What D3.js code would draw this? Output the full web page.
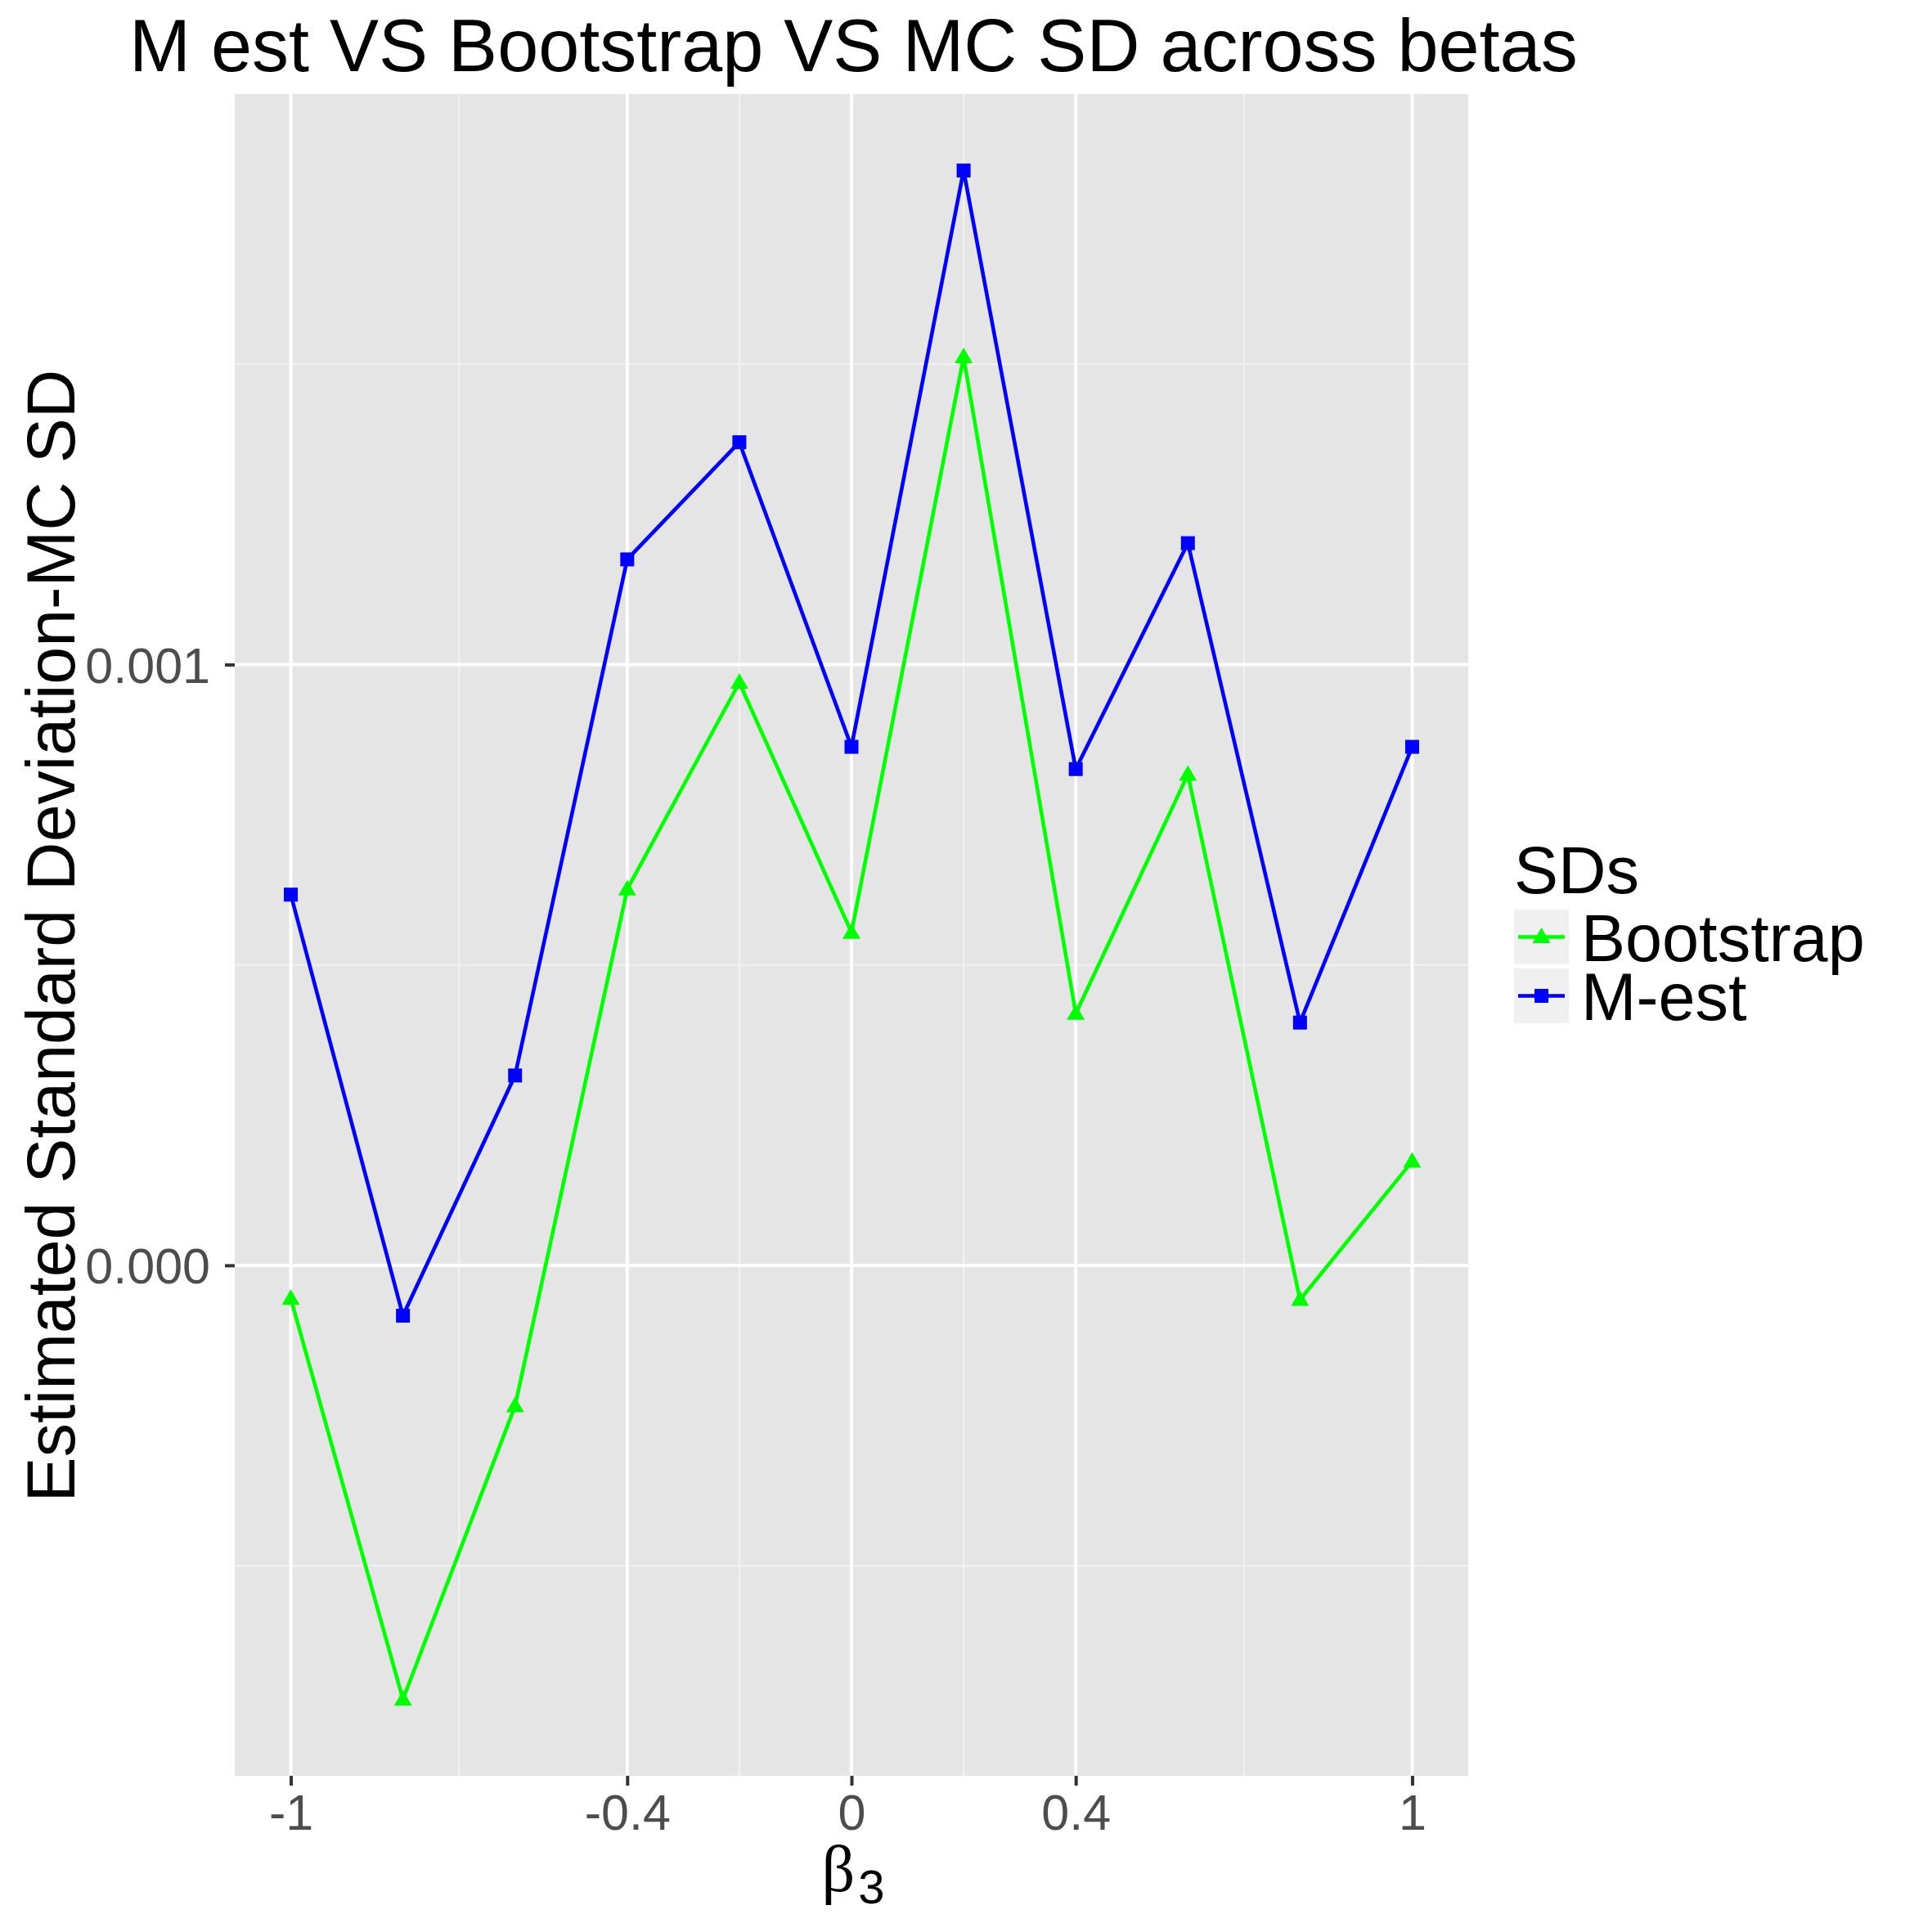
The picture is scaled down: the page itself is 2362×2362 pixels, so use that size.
<!DOCTYPE html>
<html>
<head>
<meta charset="utf-8">
<script src="https://cdn.jsdelivr.net/npm/d3@7"></script>
<style>
  html, body { margin: 0; padding: 0; background: #ffffff; }
  svg { display: block; }
</style>
</head>
<body>
<script>
// ---- data ----
const betas = [-1, -0.8, -0.6, -0.4, -0.2, 0, 0.2, 0.4, 0.6, 0.8, 1];
const bootstrapSD = [-0.0000554, -0.0007224, -0.000234, 0.000626, 0.00097, 0.000554, 0.001512, 0.000419, 0.000817, -0.0000572, 0.000173];
const mestSD = [0.000617, -0.0000838, 0.000316, 0.001175, 0.00137, 0.000863, 0.0018223, 0.000826, 0.001202, 0.000404, 0.000863];
const seriesNames = ["Bootstrap", "M-est"];
const seriesColors = ["#00ff00", "#0000ff"];
const xTickValues = [-1, -0.4, 0, 0.4, 1];
const xTickLabels = ["-1", "-0.4", "0", "0.4", "1"];
const xMinorValues = [-0.7, -0.2, 0.2, 0.7];
const yTickValues = [0, 0.001];
const yTickLabels = ["0.000", "0.001"];
const yMinorValues = [-0.0005, 0.0005, 0.0015];
const titleText = "M est VS Bootstrap VS MC SD across betas";
const yTitle = "Estimated Standard Deviation-MC SD";
const legendTitle = "SDs";

// ---- layout ----
const W = 2362, H = 2362;
const panel = {x0: 287, x1: 1795, y0: 115, y1: 2171};

const svg = d3.select("body").append("svg").attr("width", W).attr("height", H)
  .style("font-family", "'Liberation Sans', Arial, Helvetica, sans-serif");
svg.append("rect").attr("width", W).attr("height", H).attr("fill", "#ffffff");

// scales with ggplot 5% expansion
const xExt = d3.extent(betas);
const xPad = (xExt[1] - xExt[0]) * 0.05;
const x = d3.scaleLinear().domain([xExt[0] - xPad, xExt[1] + xPad]).range([panel.x0, panel.x1]);
const yExt = d3.extent(bootstrapSD.concat(mestSD));
const yPad = (yExt[1] - yExt[0]) * 0.05;
const y = d3.scaleLinear().domain([yExt[0] - yPad, yExt[1] + yPad]).range([panel.y1, panel.y0]);

// panel background
svg.append("rect").attr("x", panel.x0).attr("y", panel.y0)
  .attr("width", panel.x1 - panel.x0).attr("height", panel.y1 - panel.y0)
  .attr("fill", "#e5e5e5");

const grid = svg.append("g");
// minor grid
grid.selectAll("line.ymin").data(yMinorValues).enter().append("line")
  .attr("x1", panel.x0).attr("x2", panel.x1)
  .attr("y1", d => y(d)).attr("y2", d => y(d))
  .attr("stroke", "#f2f2f2").attr("stroke-width", 2);
grid.selectAll("line.xmin").data(xMinorValues).enter().append("line")
  .attr("y1", panel.y0).attr("y2", panel.y1)
  .attr("x1", d => x(d)).attr("x2", d => x(d))
  .attr("stroke", "#f2f2f2").attr("stroke-width", 2);
// major grid
grid.selectAll("line.ymaj").data(yTickValues).enter().append("line")
  .attr("x1", panel.x0).attr("x2", panel.x1)
  .attr("y1", d => y(d)).attr("y2", d => y(d))
  .attr("stroke", "#ffffff").attr("stroke-width", 4);
grid.selectAll("line.xmaj").data(xTickValues).enter().append("line")
  .attr("y1", panel.y0).attr("y2", panel.y1)
  .attr("x1", d => x(d)).attr("x2", d => x(d))
  .attr("stroke", "#ffffff").attr("stroke-width", 4);

// axes
const xAxis = d3.axisBottom(x).tickValues(xTickValues)
  .tickFormat((d, i) => xTickLabels[i]).tickSize(12).tickPadding(10);
const gx = svg.append("g").attr("transform", `translate(0,${panel.y1})`).call(xAxis);
gx.select(".domain").remove();
gx.selectAll(".tick line").attr("stroke", "#333333").attr("stroke-width", 4);
gx.selectAll(".tick text").attr("fill", "#4d4d4d").attr("font-size", 61)
  .attr("font-family", "'Liberation Sans', Arial, sans-serif").attr("dy", "0.72em");

const yAxis = d3.axisLeft(y).tickValues(yTickValues)
  .tickFormat((d, i) => yTickLabels[i]).tickSize(12).tickPadding(18);
const gy = svg.append("g").attr("transform", `translate(${panel.x0},0)`).call(yAxis);
gy.select(".domain").remove();
gy.selectAll(".tick line").attr("stroke", "#333333").attr("stroke-width", 4);
gy.selectAll(".tick text").attr("fill", "#4d4d4d").attr("font-size", 61)
  .attr("font-family", "'Liberation Sans', Arial, sans-serif").attr("dy", "0.36em");

// series
const seriesData = [bootstrapSD, mestSD];
const line = d3.line().x((d, i) => x(betas[i])).y(d => y(d));
const triPath = (cx, cy) => {
  const hw = 11, h = 19;
  return `M${cx},${cy - h * 0.6}L${cx + hw},${cy + h * 0.4}L${cx - hw},${cy + h * 0.4}Z`;
};
seriesData.forEach((vals, si) => {
  const g = svg.append("g");
  g.append("path").datum(vals).attr("d", line)
    .attr("fill", "none").attr("stroke", seriesColors[si]).attr("stroke-width", 4.6)
    .attr("stroke-linejoin", "round");
  if (si === 0) {
    g.selectAll("path.pt").data(vals).enter().append("path")
      .attr("d", (d, i) => triPath(x(betas[i]), y(d)))
      .attr("fill", seriesColors[si]);
  } else {
    g.selectAll("rect.pt").data(vals).enter().append("rect")
      .attr("x", (d, i) => x(betas[i]) - 8.5).attr("y", d => y(d) - 8.5)
      .attr("width", 17).attr("height", 17)
      .attr("fill", seriesColors[si]);
  }
});

// title
svg.append("text").attr("x", 158).attr("y", 87).attr("font-size", 90)
  .attr("fill", "#000000").text(titleText);

// y-axis title
svg.append("text")
  .attr("transform", `translate(91,${(panel.y0 + panel.y1) / 2 + 1}) rotate(-90)`)
  .attr("text-anchor", "middle").attr("font-size", 82.5).attr("fill", "#000000")
  .text(yTitle);

// x-axis title: beta with subscript 3
const xt = svg.append("text").attr("x", x(0) + 2).attr("y", 2312)
  .attr("text-anchor", "middle").attr("fill", "#000000");
xt.append("tspan").attr("font-size", 80).attr("font-family", "'Liberation Serif', 'DejaVu Serif', serif").text("β");
xt.append("tspan").attr("font-size", 58).attr("dy", 15).attr("dx", 4)
  .attr("font-family", "'Liberation Sans', Arial, sans-serif").text("3");

// legend
const leg = svg.append("g");
leg.append("text").attr("x", 1851).attr("y", 1092).attr("font-size", 81)
  .attr("fill", "#000000").text(legendTitle);
seriesNames.forEach((name, i) => {
  const ky = 1112 + i * 72;
  leg.append("rect").attr("x", 1851).attr("y", ky).attr("width", 67).attr("height", 67)
    .attr("fill", "#f0f0f0");
  const cy = ky + 33.5, cx = 1851 + 33.5;
  leg.append("line").attr("x1", 1856).attr("x2", 1913).attr("y1", cy).attr("y2", cy)
    .attr("stroke", seriesColors[i]).attr("stroke-width", 4.3);
  if (i === 0) {
    leg.append("path").attr("d", triPath(cx, cy)).attr("fill", seriesColors[i]);
  } else {
    leg.append("rect").attr("x", cx - 8.5).attr("y", cy - 8.5).attr("width", 17).attr("height", 17)
      .attr("fill", seriesColors[i]);
  }
  leg.append("text").attr("x", 1933).attr("y", ky + 63).attr("font-size", 81)
    .attr("fill", "#000000").text(name);
});
</script>
</body>
</html>
